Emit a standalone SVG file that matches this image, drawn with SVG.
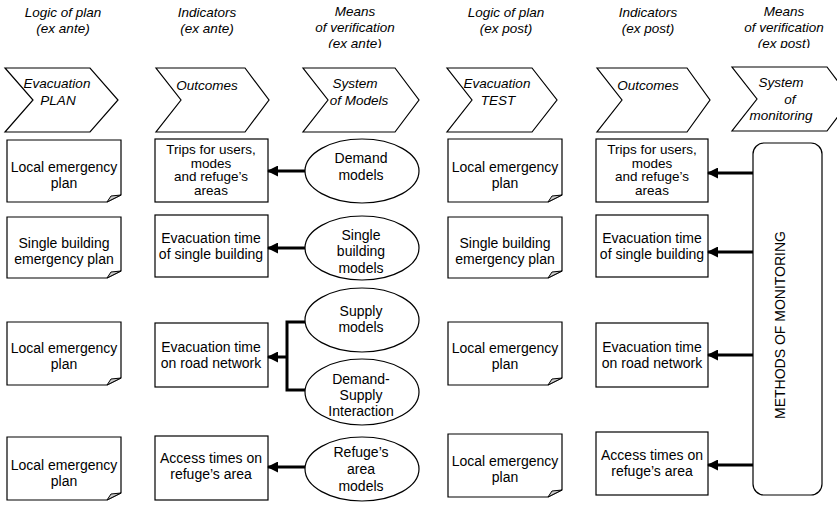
<svg xmlns="http://www.w3.org/2000/svg" width="837" height="507" viewBox="0 0 837 507">
<style>
text{font-family:"Liberation Sans",Arial,sans-serif;fill:#000;text-anchor:middle}
.h{font-size:13.5px;font-style:italic}
.c{font-size:13.5px;font-style:italic}
.t{font-size:14px}
.t4{font-size:13.5px}
.shape{fill:#fff;stroke:#000;stroke-width:1.2}
.fold{fill:#ccc;stroke:#000;stroke-width:1}
.halo{paint-order:stroke;stroke:#fff;stroke-width:3px;stroke-linejoin:round}
.con{fill:none;stroke:#000;stroke-width:3}
</style>
<defs>
<marker id="ah" markerWidth="11" markerHeight="11" refX="10" refY="5.5" orient="auto" markerUnits="userSpaceOnUse"><path d="M0,0 L11,5.5 L0,11 Z" fill="#000"/></marker>
<clipPath id="hc"><rect x="0" y="0" width="837" height="48"/></clipPath>
</defs>
<rect width="837" height="507" fill="#fff"/>

<g id="headers" clip-path="url(#hc)">
<text class="h" x="63" y="17">Logic of plan</text><text class="h" x="63" y="33">(ex ante)</text>
<text class="h" x="207" y="17">Indicators</text><text class="h" x="207" y="33">(ex ante)</text>
<text class="h" x="355" y="16">Means</text><text class="h" x="355" y="32">of verification</text><text class="h" x="355" y="48">(ex ante)</text>
<text class="h" x="506" y="17">Logic of plan</text><text class="h" x="506" y="33">(ex post)</text>
<text class="h" x="648" y="17">Indicators</text><text class="h" x="648" y="33">(ex post)</text>
<text class="h" x="784" y="16">Means</text><text class="h" x="784" y="32">of verification</text><text class="h" x="784" y="48">(ex post)</text>
</g>

<g id="chev1"><polygon class="shape" points="5,68 90,68 118,100 90,132 5,132 33,100"/><text class="c" x="57" y="88">Evacuation</text><text class="c" x="58" y="105">PLAN</text></g>
<g id="chev2"><polygon class="shape" points="156,68 245,68 269,100 245,132 156,132 181,100"/><text class="c" x="207" y="90">Outcomes</text></g>
<g id="chev3"><polygon class="shape" points="303,68 395,68 419,100 395,132 303,132 328,100"/><text class="c" x="355" y="88">System</text><text class="c" x="359" y="105">of Models</text></g>
<g id="chev4"><polygon class="shape" points="447,68 532,68 557,100 532,132 447,132 472,100"/><text class="c" x="497" y="88">Evacuation</text><text class="c" x="498" y="105">TEST</text></g>
<g id="chev5"><polygon class="shape" points="597,68 687,68 710,100 687,132 597,132 622,100"/><text class="c" x="648" y="90">Outcomes</text></g>
<g id="chev6"><polygon class="shape" points="732,67 827,67 851,99 827,131 732,131 757,99"/><text class="c" x="781" y="87">System</text><text class="c" x="790" y="104">of</text><text class="c" x="781" y="120">monitoring</text></g>

<g id="doc1a"><path class="shape" d="M7,140 H121 V195 L107,202 H7 Z"/><path class="fold" d="M107,202 L111,196 L121,195 Z"/><text class="t" x="64" y="172">Local emergency</text><text class="t" x="64" y="188">plan</text></g>
<g id="doc1b"><path class="shape" d="M7,217 H121 V271 L107,278 H7 Z"/><path class="fold" d="M107,278 L111,272 L121,271 Z"/><text class="t" x="64" y="248">Single building</text><text class="t" x="64" y="264">emergency plan</text></g>
<g id="doc1c"><path class="shape" d="M7,322 H121 V378 L107,385 H7 Z"/><path class="fold" d="M107,385 L111,379 L121,378 Z"/><text class="t" x="64" y="353">Local emergency</text><text class="t" x="64" y="369">plan</text></g>
<g id="doc1d"><path class="shape" d="M7,437 H121 V493 L107,500 H7 Z"/><path class="fold" d="M107,500 L111,494 L121,493 Z"/><text class="t" x="64" y="470">Local emergency</text><text class="t" x="64" y="486">plan</text></g>

<g id="ind1a"><rect class="shape" x="155" y="139" width="113" height="63"/><text class="t4" x="211" y="154">Trips for users,</text><text class="t4" x="211" y="167.5">modes</text><text class="t4" x="211" y="181">and refuge’s</text><text class="t4" x="211" y="194.5">areas</text></g>
<g id="ind1b"><rect class="shape" x="155" y="215" width="113" height="62"/><text class="t" x="211" y="243">Evacuation time</text><text class="t" x="211" y="259">of single building</text></g>
<g id="ind1c"><rect class="shape" x="155" y="323" width="113" height="64"/><text class="t" x="211" y="352">Evacuation time</text><text class="t" x="211" y="368">on road network</text></g>
<g id="ind1d"><rect class="shape" x="155" y="436" width="113" height="64"/><text class="t" x="211" y="463">Access times on</text><text class="t" x="211" y="479">refuge’s area</text></g>

<g id="ell1"><ellipse class="shape" cx="362" cy="171" rx="57" ry="32"/><text class="t halo" x="361" y="163">Demand</text><text class="t halo" x="361" y="180">models</text></g>
<g id="ell2"><ellipse class="shape" cx="362" cy="248" rx="57" ry="32"/><text class="t halo" x="361" y="240">Single</text><text class="t halo" x="361" y="256">building</text><text class="t halo" x="361" y="273">models</text></g>
<g id="ell3"><ellipse class="shape" cx="362" cy="320" rx="57" ry="32"/><text class="t halo" x="361" y="316">Supply</text><text class="t halo" x="361" y="332">models</text></g>
<g id="ell4"><ellipse class="shape" cx="362" cy="392" rx="57" ry="33"/><text class="t halo" x="361" y="384">Demand-</text><text class="t halo" x="361" y="400">Supply</text><text class="t halo" x="361" y="416">Interaction</text></g>
<g id="ell5"><ellipse class="shape" cx="362" cy="469" rx="57" ry="32"/><text class="t halo" x="361" y="457">Refuge’s</text><text class="t halo" x="361" y="474">area</text><text class="t halo" x="361" y="491">models</text></g>

<g id="doc2a"><path class="shape" d="M448,139 H562 V195 L548,202 H448 Z"/><path class="fold" d="M548,202 L552,196 L562,195 Z"/><text class="t" x="505" y="172">Local emergency</text><text class="t" x="505" y="188">plan</text></g>
<g id="doc2b"><path class="shape" d="M448,217 H562 V271 L548,278 H448 Z"/><path class="fold" d="M548,278 L552,272 L562,271 Z"/><text class="t" x="505" y="248">Single building</text><text class="t" x="505" y="264">emergency plan</text></g>
<g id="doc2c"><path class="shape" d="M448,322 H562 V378 L548,385 H448 Z"/><path class="fold" d="M548,385 L552,379 L562,378 Z"/><text class="t" x="505" y="353">Local emergency</text><text class="t" x="505" y="369">plan</text></g>
<g id="doc2d"><path class="shape" d="M448,434 H562 V490 L548,497 H448 Z"/><path class="fold" d="M548,497 L552,491 L562,490 Z"/><text class="t" x="505" y="466">Local emergency</text><text class="t" x="505" y="482">plan</text></g>

<g id="ind2a"><rect class="shape" x="596" y="139" width="112" height="63"/><text class="t4" x="652" y="154">Trips for users,</text><text class="t4" x="652" y="167.5">modes</text><text class="t4" x="652" y="181">and refuge’s</text><text class="t4" x="652" y="194.5">areas</text></g>
<g id="ind2b"><rect class="shape" x="596" y="215" width="112" height="62"/><text class="t" x="652" y="243">Evacuation time</text><text class="t" x="652" y="259">of single building</text></g>
<g id="ind2c"><rect class="shape" x="596" y="323" width="112" height="64"/><text class="t" x="652" y="352">Evacuation time</text><text class="t" x="652" y="368">on road network</text></g>
<g id="ind2d"><rect class="shape" x="596" y="432" width="112" height="63"/><text class="t" x="652" y="460">Access times on</text><text class="t" x="652" y="476">refuge’s area</text></g>

<g id="monitoring"><rect class="shape" x="753" y="143" width="69" height="352" rx="11" ry="11"/><text class="t" transform="translate(785,325) rotate(-90)" x="0" y="0">METHODS OF MONITORING</text></g>

<g id="connectors">
<line class="con" x1="305" y1="171" x2="268" y2="171" marker-end="url(#ah)"/>
<line class="con" x1="305" y1="248" x2="268" y2="248" marker-end="url(#ah)"/>
<polyline class="con" points="305,322 287,322 287,390 305,390"/>
<line class="con" x1="287" y1="357" x2="268" y2="357" marker-end="url(#ah)"/>
<line class="con" x1="305" y1="467" x2="268" y2="467" marker-end="url(#ah)"/>
<line class="con" x1="753" y1="173" x2="708" y2="173" marker-end="url(#ah)"/>
<line class="con" x1="753" y1="252" x2="708" y2="252" marker-end="url(#ah)"/>
<line class="con" x1="753" y1="355" x2="708" y2="355" marker-end="url(#ah)"/>
<line class="con" x1="753" y1="465" x2="708" y2="465" marker-end="url(#ah)"/>
</g>
</svg>
